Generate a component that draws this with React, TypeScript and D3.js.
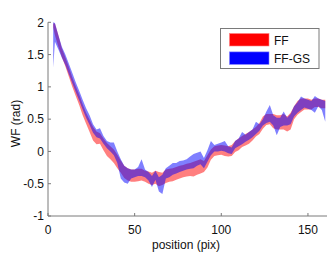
import { area, scaleLinear } from "d3";
import React from "react";

// sample positions (pix) and band limits (rad)
const positions = [
  3, 4, 6, 8, 10, 12, 14, 16, 18, 20, 22, 24, 26, 28, 30, 32, 34, 36, 38, 40,
  42, 44, 46, 48, 50, 52, 54, 56, 58, 60, 62, 64, 66, 68, 70, 72, 74, 76, 78, 80,
  82, 84, 86, 88, 90, 92, 94, 96, 98, 100, 102, 104, 106, 108, 110, 112, 114, 116, 118, 120,
  122, 124, 126, 128, 130, 132, 134, 136, 138, 140, 142, 144, 146, 148, 150, 152, 154, 156, 158, 160,
];
const ffLo = [
  1.92, 1.80, 1.62, 1.46, 1.32, 1.16, 1.00, 0.86, 0.72, 0.56, 0.43, 0.30, 0.17, 0.11, 0.12, 0.02, -0.07, -0.12, -0.18, -0.26,
  -0.33, -0.41, -0.45, -0.47, -0.47, -0.46, -0.45, -0.47, -0.50, -0.52, -0.50, -0.54, -0.52, -0.49, -0.47, -0.46, -0.44, -0.42, -0.40, -0.39,
  -0.38, -0.39, -0.36, -0.34, -0.32, -0.25, -0.13, -0.07, -0.06, -0.05, -0.07, -0.08, -0.07, -0.01, 0.02, 0.07, 0.09, 0.12, 0.17, 0.23,
  0.27, 0.35, 0.41, 0.42, 0.36, 0.34, 0.34, 0.34, 0.31, 0.34, 0.50, 0.57, 0.61, 0.65, 0.65, 0.65, 0.69, 0.69, 0.67, 0.67,
];
const ffHi = [
  1.98, 1.98, 1.80, 1.60, 1.46, 1.31, 1.15, 1.01, 0.88, 0.73, 0.60, 0.49, 0.38, 0.31, 0.28, 0.20, 0.13, 0.08, 0.03, -0.05,
  -0.14, -0.22, -0.26, -0.28, -0.28, -0.27, -0.27, -0.30, -0.31, -0.33, -0.30, -0.32, -0.33, -0.28, -0.27, -0.26, -0.24, -0.22, -0.21, -0.19,
  -0.18, -0.16, -0.14, -0.12, -0.15, -0.06, 0.03, 0.08, 0.09, 0.10, 0.09, 0.08, 0.10, 0.16, 0.20, 0.24, 0.27, 0.30, 0.34, 0.38,
  0.44, 0.54, 0.58, 0.58, 0.58, 0.56, 0.56, 0.58, 0.54, 0.60, 0.70, 0.78, 0.82, 0.82, 0.82, 0.80, 0.82, 0.82, 0.80, 0.80,
];
const gsLo = [
  1.30, 1.70, 1.58, 1.45, 1.34, 1.20, 1.06, 0.92, 0.79, 0.65, 0.52, 0.41, 0.29, 0.22, 0.20, 0.12, 0.05, 0.00, -0.06, -0.18,
  -0.42, -0.48, -0.50, -0.42, -0.40, -0.38, -0.38, -0.40, -0.45, -0.55, -0.44, -0.62, -0.66, -0.42, -0.40, -0.36, -0.34, -0.32, -0.30, -0.28,
  -0.27, -0.26, -0.22, -0.20, -0.26, -0.16, -0.06, 0.00, 0.00, 0.01, 0.00, -0.03, -0.04, 0.05, 0.08, 0.11, 0.15, 0.18, 0.22, 0.27,
  0.32, 0.40, 0.44, 0.46, 0.40, 0.25, 0.38, 0.40, 0.40, 0.42, 0.54, 0.60, 0.64, 0.68, 0.66, 0.64, 0.60, 0.70, 0.64, 0.46,
];
const gsHi = [
  2.00, 1.99, 1.80, 1.62, 1.50, 1.36, 1.22, 1.07, 0.94, 0.80, 0.67, 0.56, 0.42, 0.34, 0.36, 0.24, 0.16, 0.14, 0.14, 0.00,
  -0.12, -0.22, -0.26, -0.28, -0.28, -0.24, -0.12, -0.28, -0.32, -0.38, -0.30, -0.40, -0.36, -0.26, -0.22, -0.18, -0.18, -0.15, -0.14, -0.12,
  -0.08, -0.04, -0.02, 0.00, -0.10, 0.02, 0.16, 0.10, 0.12, 0.14, 0.16, 0.08, 0.06, 0.16, 0.20, 0.30, 0.26, 0.30, 0.34, 0.46,
  0.42, 0.50, 0.62, 0.72, 0.56, 0.52, 0.52, 0.62, 0.52, 0.58, 0.70, 0.76, 0.85, 0.82, 0.80, 0.78, 0.86, 0.82, 0.80, 0.78,
];

const xTicks = [0, 50, 100, 150];
const yTicks = [-1, -0.5, 0, 0.5, 1, 1.5, 2];
const legendLabels = ["FF", "FF-GS"];

const width = 336;
const height = 254;
const left = 48;
const right = 327;
const top = 22.3;
const bottom = 216;
const axisColor = "#7a7a7a";
const font = "'Liberation Sans', Arial, sans-serif";

const x = scaleLinear().domain([0, 161]).range([left, right]);
const y = scaleLinear().domain([-1, 2]).range([bottom, top]);

const band = (lo: number[], hi: number[]) =>
  area<number>()
    .x((d) => x(d))
    .y0((_, i) => y(lo[i]))
    .y1((_, i) => y(hi[i]))(positions) ?? "";

export default function App() {
  return (
    <svg
      width={width}
      height={height}
      viewBox={`0 0 ${width} ${height}`}
      style={{ position: "absolute", left: 0, top: 0, background: "white" }}
      fontFamily={font}
      fontSize={12}
    >
      <path d={band(ffLo, ffHi)} fill="rgba(255,0,0,0.5)" />
      <path d={band(gsLo, gsHi)} fill="rgba(0,0,255,0.5)" />

      {/* axes */}
      <line x1={left} x2={left} y1={top} y2={bottom} stroke={axisColor} />
      <line x1={left} x2={right} y1={bottom} y2={bottom} stroke={axisColor} />
      {yTicks.map((t) => (
        <g key={t}>
          <line x1={left} x2={left + 3} y1={y(t)} y2={y(t)} stroke={axisColor} />
          <text x={left - 4} y={y(t)} dy="0.35em" textAnchor="end" fill="#111">
            {t}
          </text>
        </g>
      ))}
      {xTicks.map((t) => (
        <g key={t}>
          <line x1={x(t)} x2={x(t)} y1={bottom} y2={bottom - 3} stroke={axisColor} />
          <text x={x(t)} y={233.5} textAnchor="middle" fill="#111">
            {t}
          </text>
        </g>
      ))}
      <text x={186} y={248.5} textAnchor="middle" fill="#111">
        position (pix)
      </text>
      <text
        transform={`translate(19.5, 123.5) rotate(-90)`}
        textAnchor="middle"
        fill="#111"
      >
        WF (rad)
      </text>

      {/* legend */}
      <rect x={220.5} y={28.5} width={98.5} height={40} fill="white" stroke={axisColor} />
      {legendLabels.map((label, i) => (
        <g key={label} transform={`translate(0, ${i * 18.4})`}>
          <rect
            x={229.5}
            y={33.5}
            width={39.5}
            height={12.5}
            fill={i === 0 ? "#ff0000" : "#0000ff"}
            stroke={i === 0 ? "#ff8080" : "#8080ff"}
            strokeWidth={0.6}
          />
          <text x={274} y={45} fill="#111">
            {label}
          </text>
        </g>
      ))}
    </svg>
  );
}
